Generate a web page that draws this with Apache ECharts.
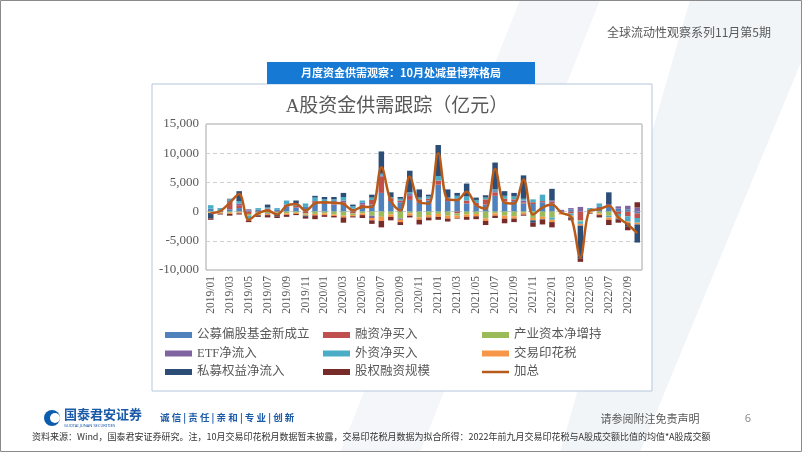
<!DOCTYPE html>
<html><head><meta charset="utf-8">
<script src="https://cdn.jsdelivr.net/npm/echarts@6.0.0/dist/echarts.min.js"></script>
<style>html,body{margin:0;padding:0;background:#fff}#c{width:802px;height:452px}</style>
</head><body><div id="c"></div>
<script>
var months = ['2019/01','2019/02','2019/03','2019/04','2019/05','2019/06','2019/07','2019/08','2019/09','2019/10','2019/11','2019/12',
'2020/01','2020/02','2020/03','2020/04','2020/05','2020/06','2020/07','2020/08','2020/09','2020/10','2020/11','2020/12',
'2021/01','2021/02','2021/03','2021/04','2021/05','2021/06','2021/07','2021/08','2021/09','2021/10','2021/11','2021/12',
'2022/01','2022/02','2022/03','2022/04','2022/05','2022/06','2022/07','2022/08','2022/09','2022/10'];
var publicFund = [500,200,400,600,200,300,300,300,900,700,800,1500,1300,1200,1200,500,800,1200,3200,1800,1600,2000,1500,1900,4600,1800,1900,1400,1100,1200,2700,1700,1800,1400,1300,1600,1400,0,400,0,300,600,800,500,400,-300];
var margin = [0,-100,1200,500,-400,-100,200,-100,300,300,-300,300,500,300,400,-300,400,800,2800,500,300,700,600,300,700,400,-300,500,400,900,600,500,300,200,300,200,300,-100,-300,-1500,0,0,200,-400,-800,-800];
var industry = [-100,-100,-200,-100,-300,-300,-300,-200,-300,-200,-200,-400,-300,-500,-700,-300,-300,-700,-900,-500,-1200,-300,-1000,-600,-400,-700,-400,-500,-400,-1200,-300,-700,-800,-200,-1100,-900,-1000,-100,0,-200,-100,-300,-700,0,0,0];
var etf = [0,0,200,300,200,0,-100,0,0,0,0,0,0,300,300,0,300,-400,200,0,-200,300,0,0,0,0,300,0,0,0,200,0,0,300,0,0,200,300,200,800,0,200,300,400,600,700];
var foreign = [600,400,300,400,-600,300,200,300,700,400,600,600,300,300,600,400,400,400,300,200,300,300,300,400,800,200,500,700,500,300,300,500,500,300,500,1100,-400,0,-400,-400,300,600,-300,-500,-900,-800];
var stampTax = [-150,-150,-200,-200,-200,-200,-200,-200,-250,-200,-200,-250,-300,-250,-300,-200,-300,-400,-700,-400,-400,-400,-400,-400,-500,-500,-400,-400,-400,-400,-400,-500,-400,-300,-400,-400,-400,-300,-300,-300,-200,-300,-400,-300,-300,-300];
var privateFund = [-900,0,100,1700,0,-100,500,-300,0,500,-200,300,400,400,700,300,0,500,3800,800,300,3700,1400,300,5300,1400,500,2200,400,400,4600,800,600,4000,-400,-100,2000,0,-300,-5600,0,0,2000,-200,-600,-3100];
var equityFin = [-250,-150,-300,-200,-300,-200,-400,-300,-350,-200,-300,-650,-300,-250,-900,-200,-500,-600,-1100,-600,-500,-300,-800,-500,-500,-500,-100,-500,-500,-700,-400,-800,-600,-200,-700,-800,-900,0,-200,-600,-100,-400,-900,-500,-600,900];
var total = [-300,100,1500,3000,-1400,-300,200,-500,1000,1300,200,1400,1600,1500,1300,200,800,800,7600,1800,200,6000,1600,1400,10000,2100,2000,3400,1100,500,7300,1500,1400,5500,-500,700,1200,-200,-900,-7800,200,400,1000,-1000,-2200,-3700];
var yTicks = [-10000,-5000,0,5000,10000,15000];

var barDefs = [
  ['公募偏股基金新成立', publicFund, '#4F81BD'],
  ['融资净买入', margin, '#C0504D'],
  ['产业资本净增持', industry, '#9BBB59'],
  ['ETF净流入', etf, '#8064A2'],
  ['外资净买入', foreign, '#4BACC6'],
  ['交易印花税', stampTax, '#F79646'],
  ['私募权益净流入', privateFund, '#2C4D75'],
  ['股权融资规模', equityFin, '#772C2A']
];
var series = barDefs.map(function(d){
  return {name:d[0], type:'bar', stack:'s', data:d[1], itemStyle:{color:d[2]}, barCategoryGap:'42%', z:2};
});
series.push({name:'加总', type:'line', data:total, smooth:0.35, symbol:'none', lineStyle:{color:'#B85A1A', width:2.5}, itemStyle:{color:'#B85A1A'}, z:5});

var serif = "'Liberation Serif','Noto Sans CJK SC',serif";
var legendText = {fontFamily:"'Liberation Serif','Noto Sans CJK SC'", fontSize:12.5, color:'#595959', lineHeight:14};
function leg(left, top, names, ih){
  return {orient:'vertical', left:left, top:top, itemWidth:27, itemHeight:ih, itemGap:4.5, data:names.map(function(n){return {name:n, icon:'rect'};}), textStyle:legendText, selectedMode:false, padding:0};
}
var option = {
  animation:false,
  grid:{left:206, right:160, top:124, bottom:182, show:true, borderColor:'#a6a6a6', borderWidth:1, backgroundColor:'transparent'},
  xAxis:{type:'category', data:months, axisLine:{show:false, onZero:false}, axisTick:{show:false},
    axisLabel:{interval:1, rotate:90, fontFamily:serif, fontSize:11.5, color:'#595959', margin:6}},
  yAxis:{type:'value', min:yTicks[0], max:yTicks[yTicks.length-1], interval:5000, axisLine:{show:false}, axisTick:{show:false},
    axisLabel:{fontFamily:serif, fontSize:13, color:'#595959', margin:7, formatter:function(v){return v.toLocaleString('en-US');}},
    splitLine:{lineStyle:{color:'#d0d0d0', type:[4,3]}}},
  legend:[
    leg(165, 328, ['公募偏股基金新成立','ETF净流入','私募权益净流入'], 6),
    leg(323, 328, ['融资净买入','外资净买入','股权融资规模'], 6),
    leg(482, 328, ['产业资本净增持','交易印花税'], 6),
    leg(482, 365, ['加总'], 2.5)
  ],
  graphic:[
    {type:'polygon', z:-10, shape:{points:[[520,0],[600,0],[420,452],[340,452]]}, style:{fill:'#f4f6f9'}},
    {type:'polygon', z:-10, shape:{points:[[690,0],[802,0],[802,60],[640,452],[560,452]]}, style:{fill:'#f2f5f8'}},
    {type:'rect', z:-9, shape:{x:152, y:84, width:500, height:307}, style:{fill:'#fff', stroke:'#b4c7dc', lineWidth:1}},
    {type:'rect', z:10, shape:{x:267, y:62, width:268, height:22}, style:{fill:'#1679D3'}},
    {type:'text', z:11, x:401, y:73, style:{text:'月度资金供需观察：10月处减量博弈格局', fill:'#fff', font:"bold 11px 'Noto Sans CJK SC'", textAlign:'center', textVerticalAlign:'middle'}},
    {type:'text', z:11, x:771, y:32, style:{text:'全球流动性观察系列11月第5期', fill:'#595959', font:"12px 'Noto Sans CJK SC'", textAlign:'right', textVerticalAlign:'middle'}},
    {type:'text', z:11, x:397, y:107, style:{text:'A股资金供需跟踪（亿元）', fill:'#595959', font:"19px 'Liberation Serif','Noto Sans CJK SC'", textAlign:'center', textVerticalAlign:'middle'}},
    {type:'circle', z:11, shape:{cx:52, cy:418, r:8}, style:{fill:'#0B5CAD'}},
    {type:'circle', z:12, shape:{cx:55, cy:418, r:5}, style:{fill:'#fff'}},
    {type:'text', z:11, x:64, y:414, style:{text:'国泰君安证券', fill:'#1B5AA8', font:"bold 13px 'Noto Sans CJK SC'", textVerticalAlign:'middle'}},
    {type:'text', z:11, x:64, y:426, style:{text:'GUOTAI JUNAN SECURITIES', fill:'#1B5AA8', font:"4px 'Noto Sans'", textVerticalAlign:'middle'}},
    {type:'text', z:11, x:160, y:417, style:{text:'诚 信 | 责 任 | 亲 和 | 专 业 | 创 新', fill:'#1B5AA8', font:"bold 9.5px 'Noto Sans CJK SC'", textVerticalAlign:'middle'}},
    {type:'text', z:11, x:650, y:419, style:{text:'请参阅附注免责声明', fill:'#595959', font:"11px 'Noto Sans CJK SC'", textAlign:'center', textVerticalAlign:'middle'}},
    {type:'text', z:11, x:748, y:419, style:{text:'6', fill:'#8c8c8c', font:"11px 'Noto Sans'", textAlign:'center', textVerticalAlign:'middle'}},
    {type:'text', z:11, x:32, y:437, style:{text:'资料来源：Wind，国泰君安证券研究。注，10月交易印花税月数据暂未披露，交易印花税月数据为拟合所得：2022年前九月交易印花税与A股成交额比值的均值*A股成交额', fill:'#333', font:"9px 'Noto Sans CJK SC'", textVerticalAlign:'middle'}},
    {type:'rect', z:20, shape:{x:0.5, y:0.5, width:801, height:451}, style:{fill:'none', stroke:'#8a8a8a', lineWidth:1}}
  ],
  series:series
};
var chart = echarts.init(document.getElementById('c'), null, {renderer:'canvas'});
chart.setOption(option);
</script></body></html>
